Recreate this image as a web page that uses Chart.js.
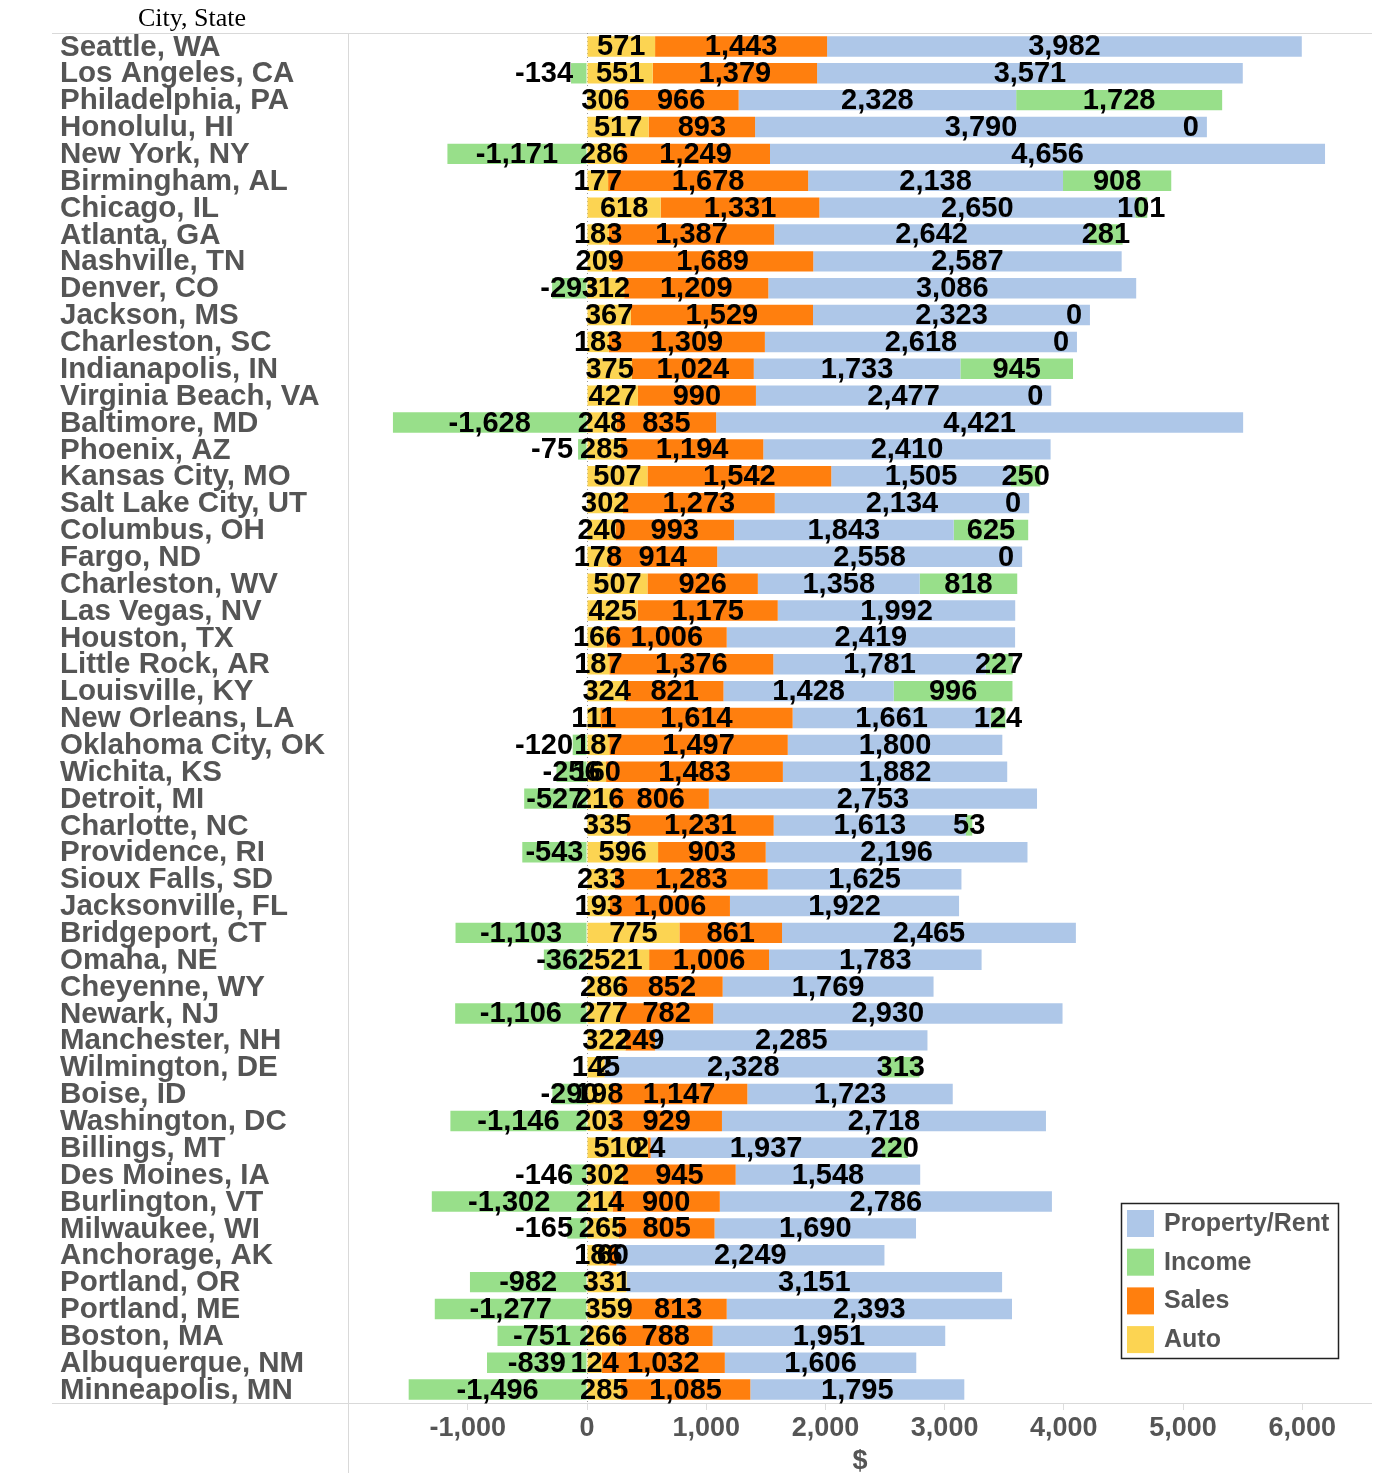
<!DOCTYPE html>
<html>
<head>
<meta charset="utf-8">
<script src="https://cdn.jsdelivr.net/npm/chart.js@4.4.0/dist/chart.umd.min.js"></script>
<style>
  html, body { margin: 0; padding: 0; background: #fff; }
  #wrap { position: relative; width: 1373px; height: 1473px; }
</style>
</head>
<body>
<div id="wrap"><canvas id="chart"></canvas></div>
<script>
const cities = [
  'Seattle, WA', 'Los Angeles, CA', 'Philadelphia, PA', 'Honolulu, HI', 'New York, NY',
  'Birmingham, AL', 'Chicago, IL', 'Atlanta, GA', 'Nashville, TN', 'Denver, CO',
  'Jackson, MS', 'Charleston, SC', 'Indianapolis, IN', 'Virginia Beach, VA', 'Baltimore, MD',
  'Phoenix, AZ', 'Kansas City, MO', 'Salt Lake City, UT', 'Columbus, OH', 'Fargo, ND',
  'Charleston, WV', 'Las Vegas, NV', 'Houston, TX', 'Little Rock, AR', 'Louisville, KY',
  'New Orleans, LA', 'Oklahoma City, OK', 'Wichita, KS', 'Detroit, MI', 'Charlotte, NC',
  'Providence, RI', 'Sioux Falls, SD', 'Jacksonville, FL', 'Bridgeport, CT', 'Omaha, NE',
  'Cheyenne, WY', 'Newark, NJ', 'Manchester, NH', 'Wilmington, DE', 'Boise, ID',
  'Washington, DC', 'Billings, MT', 'Des Moines, IA', 'Burlington, VT', 'Milwaukee, WI',
  'Anchorage, AK', 'Portland, OR', 'Portland, ME', 'Boston, MA', 'Albuquerque, NM',
  'Minneapolis, MN'
];

const autoTax = [
  571, 551, 306, 517, 286, 177, 618, 183, 209, 312,
  367, 183, 375, 427, 248, 285, 507, 302, 240, 178,
  507, 425, 166, 187, 324, 111, 187, 160, 216, 335,
  596, 233, 193, 775, 521, 286, 277, 322, 145, 198,
  203, 510, 302, 214, 265, 186, 331, 359, 266, 124,
  285
];

const salesTax = [
  1443, 1379, 966, 893, 1249, 1678, 1331, 1387, 1689, 1209,
  1529, 1309, 1024, 990, 835, 1194, 1542, 1273, 993, 914,
  926, 1175, 1006, 1376, 821, 1614, 1497, 1483, 806, 1231,
  903, 1283, 1006, 861, 1006, 852, 782, 249, 2, 1147,
  929, 24, 945, 900, 805, 60, null, 813, 788, 1032,
  1085
];

const propertyTax = [
  3982, 3571, 2328, 3790, 4656, 2138, 2650, 2642, 2587, 3086,
  2323, 2618, 1733, 2477, 4421, 2410, 1505, 2134, 1843, 2558,
  1358, 1992, 2419, 1781, 1428, 1661, 1800, 1882, 2753, 1613,
  2196, 1625, 1922, 2465, 1783, 1769, 2930, 2285, 2328, 1723,
  2718, 1937, 1548, 2786, 1690, 2249, 3151, 2393, 1951, 1606,
  1795
];

const incomeTax = [
  null, -134, 1728, 0, -1171, 908, 101, 281, null, -293,
  0, 0, 945, 0, -1628, -75, 250, 0, 625, 0,
  818, null, null, 227, 996, 124, -120, -256, -527, 53,
  -543, null, null, -1103, -362, null, -1106, null, 313, -290,
  -1146, 220, -146, -1302, -165, null, -982, -1277, -751, -839,
  -1496
];

const xTicks = [-1000, 0, 1000, 2000, 3000, 4000, 5000, 6000];

const colors = {
  property: '#aec7e8',
  income: '#98df8a',
  sales: '#ff7f0e',
  auto: '#fcd452'
};

const fmt = v => v.toLocaleString('en-US');
const sansFont = '"Liberation Sans", Arial, sans-serif';

// labels, frame lines, city names and legend drawn on the canvas
const decor = {
  id: 'decor',
  beforeDatasetsDraw(chart) {
    const { ctx, chartArea, scales } = chart;
    ctx.save();
    ctx.strokeStyle = '#d9d9d9';
    ctx.lineWidth = 1;
    ctx.beginPath();
    ctx.moveTo(52, chartArea.top + 0.5);
    ctx.lineTo(1372, chartArea.top + 0.5);
    ctx.moveTo(52, chartArea.bottom + 0.5);
    ctx.lineTo(1372, chartArea.bottom + 0.5);
    ctx.moveTo(chartArea.left + 0.5, chartArea.top);
    ctx.lineTo(chartArea.left + 0.5, chart.height);
    ctx.stroke();

    // dotted zero line
    const x0 = Math.round(scales.x.getPixelForValue(0)) + 0.5;
    ctx.strokeStyle = '#999';
    ctx.setLineDash([1, 3]);
    ctx.beginPath();
    ctx.moveTo(x0, chartArea.top);
    ctx.lineTo(x0, chartArea.bottom);
    ctx.stroke();
    ctx.restore();
  },
  afterDatasetsDraw(chart) {
    const { ctx, scales } = chart;
    const x0 = scales.x.getPixelForValue(0);
    ctx.save();
    ctx.font = 'bold 29px ' + sansFont;
    ctx.fillStyle = '#000';
    ctx.textAlign = 'center';
    ctx.textBaseline = 'middle';
    chart.data.datasets.forEach((ds, i) => {
      const meta = chart.getDatasetMeta(i);
      meta.data.forEach((bar, j) => {
        const v = ds.data[j];
        if (v === null || v === undefined) return;
        const p = bar.getCenterPoint();
        const text = fmt(v);
        let x = p.x;
        if (v === 0) {
          // zero labels sit just inside the bar end
          x = p.x - 16;
        } else if (v < 0 && v > -200) {
          // small negatives are pushed left of the auto label
          x = x0 - 14 - ctx.measureText(text).width / 2;
        }
        ctx.fillText(text, x, p.y + 1);
      });
    });
    ctx.restore();
  },
  afterDraw(chart) {
    const { ctx, scales } = chart;
    ctx.save();

    // header
    ctx.font = '26px "Liberation Serif", "Times New Roman", serif';
    ctx.fillStyle = '#000';
    ctx.textAlign = 'center';
    ctx.textBaseline = 'middle';
    ctx.fillText('City, State', 192, 19);

    // city names
    ctx.font = 'bold 29.5px ' + sansFont;
    ctx.fillStyle = '#555';
    ctx.textAlign = 'left';
    cities.forEach((c, i) => {
      ctx.fillText(c, 60, scales.y.getPixelForValue(i) + 1);
    });

    // legend box
    ctx.strokeStyle = '#222';
    ctx.lineWidth = 1.5;
    ctx.strokeRect(1121.5, 1203.5, 217, 155);
    const order = [2, 3, 1, 0];
    ctx.font = 'bold 25px ' + sansFont;
    order.forEach((di, k) => {
      const ds = chart.data.datasets[di];
      const cy = 1223 + k * 38.7;
      ctx.fillStyle = ds.backgroundColor;
      ctx.fillRect(1127, cy - 13, 27, 27);
      ctx.fillStyle = '#555';
      ctx.fillText(ds.label, 1164, cy + 1);
    });
    ctx.restore();
  }
};

new Chart(document.getElementById('chart'), {
  type: 'bar',
  data: {
    labels: cities,
    datasets: [
      { label: 'Auto', data: autoTax, backgroundColor: colors.auto },
      { label: 'Sales', data: salesTax, backgroundColor: colors.sales },
      { label: 'Property/Rent', data: propertyTax, backgroundColor: colors.property },
      { label: 'Income', data: incomeTax, backgroundColor: colors.income }
    ]
  },
  options: {
    indexAxis: 'y',
    responsive: true,
    maintainAspectRatio: false,
    animation: false,
    datasets: {
      bar: { categoryPercentage: 1, barPercentage: 0.76, borderWidth: 0 }
    },
    layout: { padding: { left: 348, top: 33, right: 1, bottom: 0 } },
    scales: {
      x: {
        stacked: true,
        min: -2005,
        max: 6585,
        afterBuildTicks: axis => { axis.ticks = xTicks.map(v => ({ value: v })); },
        afterFit: axis => { axis.height = 70; },
        ticks: {
          font: { family: sansFont, weight: 'bold', size: 27 },
          color: '#555',
          padding: 2,
          maxRotation: 0,
          callback: v => fmt(v)
        },
        grid: { drawOnChartArea: false, drawTicks: true, tickLength: 7, tickColor: '#ddd' },
        border: { display: false },
        title: {
          display: true,
          text: '$',
          font: { family: sansFont, weight: 'bold', size: 27 },
          color: '#555',
          padding: { top: 0, bottom: -5 }
        }
      },
      y: { stacked: true, display: false }
    },
    plugins: {
      legend: { display: false },
      tooltip: { enabled: false }
    }
  },
  plugins: [decor]
});
</script>
</body>
</html>
